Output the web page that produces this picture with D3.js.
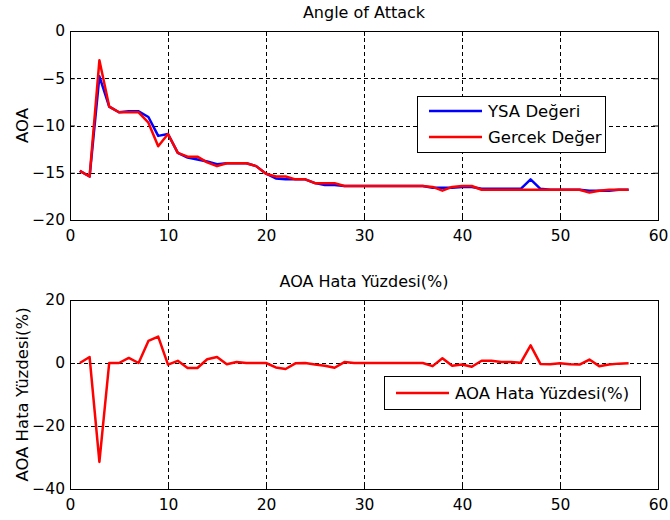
<!DOCTYPE html>
<html>
<head>
<meta charset="utf-8">
<script src="https://cdn.jsdelivr.net/npm/d3@7"></script>
<style>
  body { margin: 0; background: #fff; }
  svg text { font-family: "DejaVu Sans", sans-serif; fill: #000; }
</style>
</head>
<body>
<svg id="chart" width="670" height="520"></svg>
<script>
// sample index 1..57
var samples = d3.range(1, 58);

// network output (YSA) and real value (Gercek), degrees
var ysaValues = [-14.8, -15.4, -4.8, -8.0, -8.6, -8.5, -8.5, -9.1, -11.1, -10.9,
  -12.9, -13.4, -13.6, -13.8, -14.1, -14.0, -14.0, -14.0, -14.3, -15.1,
  -15.6, -15.7, -15.7, -15.7, -16.1, -16.3, -16.3, -16.4, -16.4, -16.4,
  -16.4, -16.4, -16.4, -16.4, -16.4, -16.4, -16.6, -16.6, -16.6, -16.5,
  -16.5, -16.7, -16.7, -16.7, -16.7, -16.7, -15.7, -16.7, -16.8, -16.8,
  -16.8, -16.8, -16.9, -16.9, -16.9, -16.8, -16.8];
var gercekValues = [-14.8, -15.4, -3.1, -8.0, -8.6, -8.6, -8.6, -9.7, -12.2, -10.9,
  -12.9, -13.3, -13.3, -13.9, -14.3, -14.0, -14.0, -14.0, -14.3, -15.1,
  -15.4, -15.4, -15.7, -15.7, -16.1, -16.1, -16.1, -16.4, -16.4, -16.4,
  -16.4, -16.4, -16.4, -16.4, -16.4, -16.4, -16.5, -16.9, -16.5, -16.4,
  -16.4, -16.8, -16.8, -16.8, -16.8, -16.8, -16.8, -16.8, -16.8, -16.8,
  -16.8, -16.8, -17.1, -16.9, -16.8, -16.8, -16.8];
// error percentage
var hataValues = [0, 1.9, -31.4, 0, 0, 1.6, 0, 7.0, 8.4, -0.5,
  0.7, -1.6, -1.6, 1.2, 1.9, -0.4, 0.3, 0, 0, 0,
  -1.4, -1.9, -0.1, 0, -0.5, -0.9, -1.5, 0.3, 0, 0,
  0, 0, 0, 0, 0, 0, -1.0, 1.5, -0.9, -0.5,
  -1.2, 0.7, 0.7, 0.3, 0.3, 0.1, 5.6, -0.3, -0.4, -0.1,
  -0.4, -0.5, 1.1, -1.0, -0.5, -0.2, -0.1];

var xTicks = [0, 10, 20, 30, 40, 50, 60];
var topYTicks = [0, -5, -10, -15, -20];
var bottomYTicks = [20, 0, -20, -40];

var svg = d3.select("#chart");
var left = 70, right = 658;

function drawPanel(top, bottom, yDomain, yTicks, title, yLabel, series, legend) {
  var x = d3.scaleLinear().domain([0, 60]).range([left, right]);
  var y = d3.scaleLinear().domain(yDomain).range([bottom, top]);
  var g = svg.append("g");

  // dashed grid
  g.selectAll(".gx").data(xTicks.slice(1, -1)).enter().append("line")
    .attr("x1", function(d) { return x(d) + 0.5; }).attr("x2", function(d) { return x(d) + 0.5; })
    .attr("y1", top).attr("y2", bottom)
    .attr("stroke", "#000").attr("stroke-dasharray", "4,3").attr("stroke-width", 1);
  g.selectAll(".gy").data(yTicks.slice(1, -1)).enter().append("line")
    .attr("y1", function(d) { return Math.round(y(d)) + 0.5; }).attr("y2", function(d) { return Math.round(y(d)) + 0.5; })
    .attr("x1", left).attr("x2", right)
    .attr("stroke", "#000").attr("stroke-dasharray", "4,3").attr("stroke-width", 1);

  // axes with inner ticks
  var xb = d3.axisBottom(x).tickValues(xTicks).tickSizeInner(-5).tickSizeOuter(0).tickPadding(10);
  var xt = d3.axisTop(x).tickValues(xTicks).tickSizeInner(-5).tickSizeOuter(0).tickFormat("");
  var yl = d3.axisLeft(y).tickValues(yTicks).tickSizeInner(-5).tickSizeOuter(0).tickPadding(5);
  var yr = d3.axisRight(y).tickValues(yTicks).tickSizeInner(-5).tickSizeOuter(0).tickFormat("");
  [[xb, "translate(0," + bottom + ")"], [xt, "translate(0," + top + ")"],
   [yl, "translate(" + left + ",0)"], [yr, "translate(" + right + ",0)"]].forEach(function(a) {
    var ax = g.append("g").attr("transform", a[1]).call(a[0]);
    ax.select(".domain").remove();
    ax.selectAll("line").attr("stroke", "#000");
    ax.selectAll("text").attr("font-size", 15.5).attr("font-family", "DejaVu Sans");
  });

  // box
  g.append("rect").attr("x", left + 0.5).attr("y", top + 0.5)
    .attr("width", right - left).attr("height", bottom - top)
    .attr("fill", "none").attr("stroke", "#000").attr("stroke-width", 1);

  // lines
  var line = d3.line().x(function(d, i) { return x(samples[i]); }).y(function(d) { return y(d); });
  series.forEach(function(s) {
    g.append("path").datum(s.values).attr("d", line)
      .attr("fill", "none").attr("stroke", s.color).attr("stroke-width", 2.5)
      .attr("stroke-linejoin", "round");
  });

  // title and y label
  g.append("text").attr("x", (left + right) / 2).attr("y", top - 13)
    .attr("text-anchor", "middle").attr("font-size", 16).text(title);
  g.append("text").attr("transform", "translate(28," + ((top + bottom) / 2) + ") rotate(-90)")
    .attr("text-anchor", "middle").attr("font-size", 16.5).text(yLabel);

  // legend
  var lg = g.append("g");
  lg.append("rect").attr("x", legend.x + 0.5).attr("y", legend.y + 0.5)
    .attr("width", legend.w).attr("height", legend.h)
    .attr("fill", "#fff").attr("stroke", "#000");
  series.forEach(function(s, i) {
    var cy = legend.y + legend.first + i * 26;
    lg.append("line").attr("x1", legend.x + 12).attr("x2", legend.x + 65)
      .attr("y1", cy).attr("y2", cy).attr("stroke", s.color).attr("stroke-width", 2.5);
    lg.append("text").attr("x", legend.x + 71).attr("y", cy + 6)
      .attr("font-size", 16.5).text(s.name);
  });
}

drawPanel(31, 220, [-20, 0], topYTicks, "Angle of Attack", "AOA",
  [{ name: "YSA Değeri", values: ysaValues, color: "#0000ff" },
   { name: "Gercek Değer", values: gercekValues, color: "#ff0000" }],
  { x: 417, y: 96, w: 188, h: 56, first: 15 });

drawPanel(300, 489, [-40, 20], bottomYTicks, "AOA Hata Yüzdesi(%)", "AOA Hata Yüzdesi(%)",
  [{ name: "AOA Hata Yüzdesi(%)", values: hataValues, color: "#ff0000" }],
  { x: 384, y: 376, w: 256, h: 33, first: 17 });
</script>
</body>
</html>
